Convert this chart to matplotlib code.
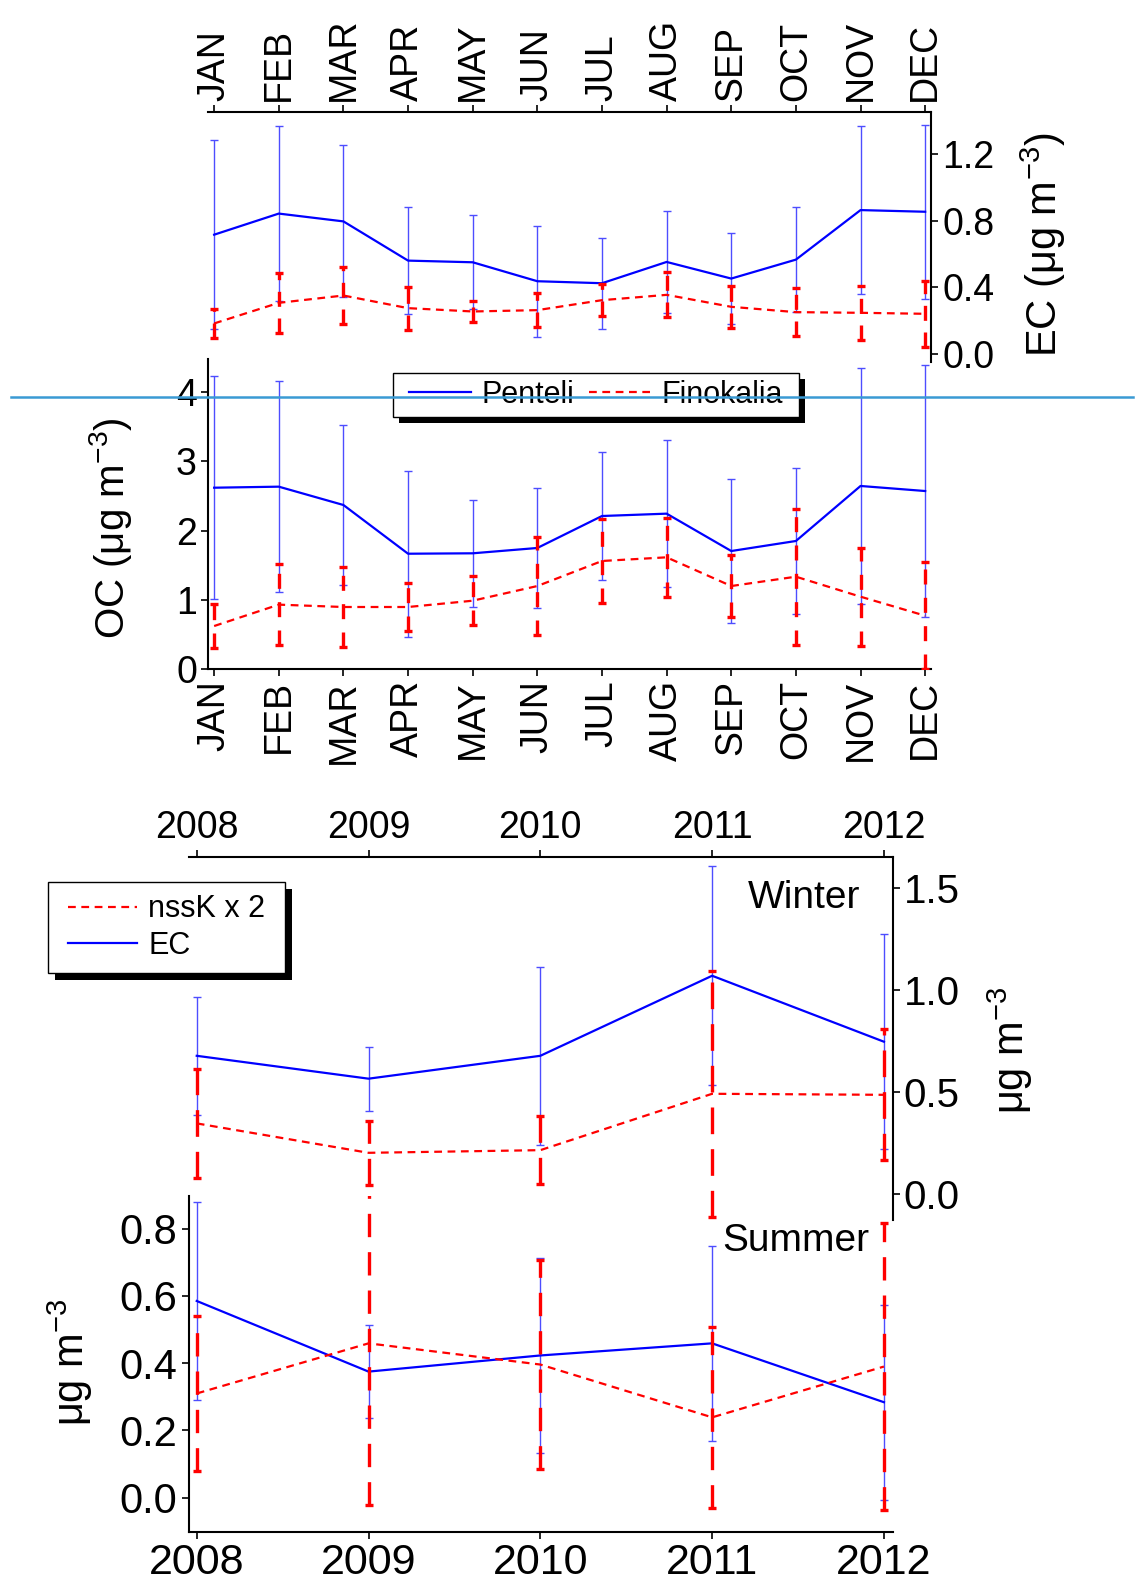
import matplotlib
matplotlib.use("Agg")
import matplotlib.pyplot as plt
from matplotlib.lines import Line2D
from matplotlib.patches import Rectangle

plt.rcParams['font.family'] = ['Liberation Sans', 'DejaVu Sans']
plt.rcParams['mathtext.default'] = 'regular'

# monthly means and standard deviations (Penteli vs Finokalia)
months = ['JAN', 'FEB', 'MAR', 'APR', 'MAY', 'JUN', 'JUL', 'AUG', 'SEP', 'OCT', 'NOV', 'DEC']
month_num = list(range(1, 13))

ec_penteli = [0.716, 0.843, 0.796, 0.560, 0.550, 0.436, 0.424, 0.552, 0.452, 0.566, 0.864, 0.854]
ec_penteli_sd = [0.568, 0.524, 0.457, 0.322, 0.282, 0.335, 0.273, 0.308, 0.273, 0.315, 0.507, 0.522]
ec_finokalia = [0.182, 0.306, 0.350, 0.274, 0.254, 0.262, 0.322, 0.354, 0.282, 0.250, 0.246, 0.240]
ec_finokalia_sd = [0.088, 0.180, 0.172, 0.129, 0.066, 0.103, 0.095, 0.136, 0.126, 0.146, 0.162, 0.199]

oc_penteli = [2.62, 2.635, 2.37, 1.666, 1.672, 1.749, 2.211, 2.245, 1.705, 1.85, 2.645, 2.572]
oc_penteli_sd = [1.61, 1.52, 1.15, 1.20, 0.77, 0.87, 0.92, 1.06, 1.045, 1.05, 1.70, 1.82]
oc_finokalia = [0.621, 0.93, 0.896, 0.896, 0.987, 1.199, 1.561, 1.614, 1.199, 1.334, 1.045, 0.77]
oc_finokalia_sd = [0.32, 0.59, 0.58, 0.35, 0.35, 0.71, 0.61, 0.57, 0.45, 0.98, 0.71, 0.77]

# yearly winter / summer values
years = [2008, 2009, 2010, 2011, 2012]
win_ec = [0.677, 0.565, 0.677, 1.069, 0.746]
win_ec_sd = [0.29, 0.156, 0.435, 0.537, 0.525]
win_k = [0.346, 0.202, 0.215, 0.491, 0.486]
win_k_sd = [0.265, 0.157, 0.168, 0.603, 0.32]

sum_ec = [0.585, 0.375, 0.423, 0.459, 0.284]
sum_ec_sd = [0.293, 0.138, 0.29, 0.29, 0.29]
sum_k = [0.310, 0.459, 0.396, 0.239, 0.390]
sum_k_sd = [0.23, 0.481, 0.31, 0.27, 0.426]

W, H = 1145, 1595
fig = plt.figure(figsize=(W / 100, H / 100), dpi=100)


def rect(x0, y0, x1, y1):
    # pixel box (top-left origin) -> figure fraction
    return [x0 / W, 1 - y1 / H, (x1 - x0) / W, (y1 - y0) / H]


BLUE = '#0000ff'
BLUE_EB = '#4d4dff'
RED = '#ff0000'


def draw_pair(ax, x, blue, blue_sd, red, red_sd, bar_dash=(4.5, 3.5)):
    eb_r = ax.errorbar(x, red, yerr=red_sd, color=RED, lw=1.6, ecolor=RED,
                       elinewidth=2.4, capsize=3, capthick=2.4, zorder=3)
    eb_r[0].set_dashes((3.5, 2.5))
    eb_r[2][0].set_linestyle((0, bar_dash))
    eb_b = ax.errorbar(x, blue, yerr=blue_sd, color=BLUE, lw=1.6, ecolor=BLUE_EB,
                       elinewidth=1.0, capsize=3, capthick=1.0, zorder=2)
    return eb_b[0], eb_r[0]


def style(ax, shown):
    for side in ['left', 'right', 'top', 'bottom']:
        ax.spines[side].set_visible(side in shown)
        ax.spines[side].set_linewidth(1.5)
    ax.patch.set_visible(False)
    ax.tick_params(direction='out', length=5, width=1.2, pad=3)


# ---- EC monthly (top) ----
ax_ec = fig.add_axes(rect(208, 111.7, 931, 362))
draw_pair(ax_ec, month_num, ec_penteli, ec_penteli_sd, ec_finokalia, ec_finokalia_sd)
style(ax_ec, ['top', 'right'])
ax_ec.set_xlim(0.905, 12.09)
ax_ec.set_ylim(-0.05, 1.456)
ax_ec.xaxis.tick_top()
ax_ec.yaxis.tick_right()
ax_ec.set_xticks(month_num)
ax_ec.set_xticklabels(months, rotation=90, fontsize=27)
ax_ec.set_yticks([0.0, 0.4, 0.8, 1.2])
ax_ec.set_yticklabels(['0.0', '0.4', '0.8', '1.2'], fontsize=27)
ax_ec.yaxis.set_label_position('right')
ax_ec.set_ylabel('EC (μg m$^{-3}$)', fontsize=30, va='center', ha='center')
ax_ec.yaxis.set_label_coords(1.155, 0.467)

# ---- OC monthly ----
ax_oc = fig.add_axes(rect(208, 359, 931, 669))
l_pen, l_fin = draw_pair(ax_oc, month_num, oc_penteli, oc_penteli_sd,
                         oc_finokalia, oc_finokalia_sd, bar_dash=(4.5, 4))
style(ax_oc, ['left', 'bottom'])
ax_oc.set_xlim(0.905, 12.09)
ax_oc.set_ylim(0, 4.48)
ax_oc.set_xticks(month_num)
ax_oc.set_xticklabels(months, rotation=90, fontsize=27)
ax_oc.set_yticks([0, 1, 2, 3, 4])
ax_oc.tick_params(axis='y', labelsize=27)
ax_oc.set_ylabel('OC (μg m$^{-3}$)', fontsize=29, va='center', ha='center')
ax_oc.yaxis.set_label_coords(-0.1355, 0.455)

# ---- Winter ----
ax_w = fig.add_axes(rect(188.5, 857.3, 892.5, 1220))
l_ec, l_k = draw_pair(ax_w, years, win_ec, win_ec_sd, win_k, win_k_sd, bar_dash=(8, 4.5))
style(ax_w, ['top', 'right'])
ax_w.set_xlim(2007.952, 2012.05)
ax_w.set_ylim(-0.127, 1.649)
ax_w.xaxis.tick_top()
ax_w.yaxis.tick_right()
ax_w.set_xticks(years)
ax_w.tick_params(axis='x', labelsize=27)
ax_w.set_yticks([0.0, 0.5, 1.0, 1.5])
ax_w.set_yticklabels(['0.0', '0.5', '1.0', '1.5'], fontsize=29)
ax_w.yaxis.set_label_position('right')
ax_w.set_ylabel('μg m$^{-3}$', fontsize=30, va='center', ha='center')
ax_w.yaxis.set_label_coords(1.167, 0.469)
ax_w.text(0.794, 0.937, 'Winter', transform=ax_w.transAxes, fontsize=28,
          ha='left', va='top')

# ---- Summer ----
ax_s = fig.add_axes(rect(188.5, 1195.7, 892.5, 1531.7))
draw_pair(ax_s, years, sum_ec, sum_ec_sd, sum_k, sum_k_sd, bar_dash=(7, 4.5))
style(ax_s, ['left', 'bottom'])
ax_s.set_xlim(2007.952, 2012.05)
ax_s.set_ylim(-0.101, 0.898)
ax_s.set_xticks(years)
ax_s.tick_params(axis='x', labelsize=31)
ax_s.set_yticks([0.0, 0.2, 0.4, 0.6, 0.8])
ax_s.set_yticklabels(['0.0', '0.2', '0.4', '0.6', '0.8'], fontsize=30)
ax_s.set_ylabel('μg m$^{-3}$', fontsize=30, va='center', ha='center')
ax_s.yaxis.set_label_coords(-0.168, 0.505)
ax_s.text(0.758, 0.919, 'Summer', transform=ax_s.transAxes, fontsize=28,
          ha='left', va='top')


# ---- legends with solid black drop shadow ----
def boxed_legend(x0, y0, x1, y1, shift, handles, labels, **kw):
    fig.add_artist(Rectangle(((x0 + shift) / W, 1 - (y1 + shift) / H), (x1 - x0) / W,
                             (y1 - y0) / H, transform=fig.transFigure,
                             facecolor='black', edgecolor='none', zorder=20))
    fig.add_artist(Rectangle((x0 / W, 1 - y1 / H), (x1 - x0) / W, (y1 - y0) / H,
                             transform=fig.transFigure, facecolor='white',
                             edgecolor='black', lw=1.0, zorder=21))
    leg = fig.legend(handles, labels, loc='center',
                     bbox_to_anchor=((x0 + x1) / 2 / W, 1 - (y0 + y1) / 2 / H),
                     frameon=False, fontsize=22, borderpad=0, **kw)
    leg.set_zorder(22)
    return leg


boxed_legend(393, 373, 799, 417, 6, [l_pen, l_fin], ['Penteli', 'Finokalia'],
             ncol=2, handlelength=2.0, handletextpad=0.35, columnspacing=0.5)
boxed_legend(48, 882, 285, 973, 7, [l_k, l_ec], ['nssK x 2', 'EC'],
             handlelength=2.26, handletextpad=0.36, labelspacing=0.2)

# thin light-blue guide line across the figure
fig.add_artist(Line2D([11 / W, 1133 / W], [1 - 397 / H, 1 - 397 / H],
                      transform=fig.transFigure, color='#3a9ad4', lw=1.8, zorder=100))

fig.savefig('out.png', dpi=100)
